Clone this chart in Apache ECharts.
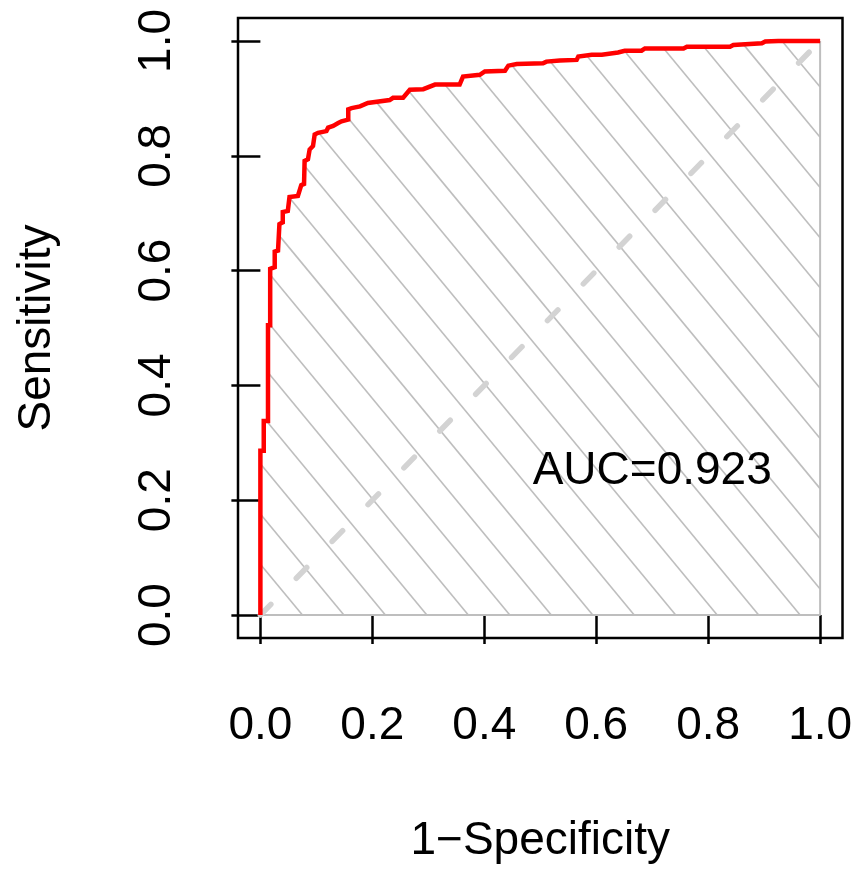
<!DOCTYPE html>
<html>
<head>
<meta charset="utf-8">
<script src="https://cdn.jsdelivr.net/npm/echarts@6/dist/echarts.min.js"></script>
<style>html,body{margin:0;padding:0;background:#fff;}#main{width:858px;height:869px;}</style>
</head>
<body>
<div id="main"></div>
<script>
// ROC curve vertices (1-specificity, sensitivity)
const fpr = [0, 0, 0.006, 0.006, 0.0136, 0.0136, 0.0175, 0.0175, 0.0256, 0.0256, 0.0315, 0.034, 0.040, 0.040, 0.049, 0.052, 0.067, 0.073, 0.078, 0.079, 0.085, 0.088, 0.094, 0.097, 0.103, 0.118, 0.121, 0.130, 0.133, 0.139, 0.145, 0.157, 0.157, 0.163, 0.178, 0.192, 0.231, 0.237, 0.255, 0.267, 0.291, 0.312, 0.356, 0.362, 0.392, 0.401, 0.437, 0.443, 0.458, 0.505, 0.511, 0.535, 0.565, 0.568, 0.592, 0.610, 0.639, 0.651, 0.681, 0.687, 0.756, 0.762, 0.839, 0.845, 0.896, 0.902, 0.925, 1.0];
const tpr = [0, 0.286, 0.286, 0.338, 0.338, 0.505, 0.505, 0.603, 0.606, 0.633, 0.635, 0.681, 0.684, 0.702, 0.704, 0.728, 0.730, 0.749, 0.751, 0.791, 0.794, 0.811, 0.817, 0.837, 0.840, 0.843, 0.849, 0.852, 0.854, 0.857, 0.860, 0.863, 0.881, 0.883, 0.886, 0.892, 0.897, 0.901, 0.901, 0.915, 0.916, 0.924, 0.924, 0.938, 0.941, 0.947, 0.948, 0.957, 0.960, 0.961, 0.964, 0.966, 0.967, 0.973, 0.976, 0.976, 0.980, 0.983, 0.983, 0.987, 0.987, 0.990, 0.990, 0.993, 0.996, 0.999, 1.0, 1.0];
const xTicks = [0, 0.2, 0.4, 0.6, 0.8, 1.0];
const yTicks = [0, 0.2, 0.4, 0.6, 0.8, 1.0];
const aucLabel = 'AUC=0.923';
const aucPos = [0.7, 0.25];
const xName = '1\u2212Specificity';
const yName = 'Sensitivity';

// hatch parameters (style)
const HATCH_STEP = 0.0741;   // horizontal spacing in data units
const HATCH_SLOPE = 1.18;    // data-unit slope (downwards)
const HATCH_OFFSET = 0.001;

function rocAt(x) {
  let y = 0;
  for (let i = 0; i < fpr.length - 1; i++) {
    const x0 = fpr[i], x1 = fpr[i + 1];
    if (x0 <= x && x <= x1) {
      let v;
      if (x1 === x0) v = Math.max(tpr[i], tpr[i + 1]);
      else v = tpr[i] + (tpr[i + 1] - tpr[i]) * (x - x0) / (x1 - x0);
      if (v > y) y = v;
    }
  }
  return y;
}
const xEnd = fpr[fpr.length - 1];
const hatch = [];
for (let k = 1; k < 200; k++) {
  const c = HATCH_OFFSET + HATCH_STEP * k;
  const lineY = x => HATCH_SLOPE * (c - x);
  const f = x => lineY(x) - rocAt(x);
  const xmax = Math.min(c, xEnd);
  if (f(xmax) > 0) break;
  let xs;
  if (f(0) <= 0) xs = 0;
  else {
    let lo = 0, hi = xmax;
    for (let it = 0; it < 60; it++) {
      const mid = (lo + hi) / 2;
      if (f(mid) > 0) lo = mid; else hi = mid;
    }
    xs = hi;
  }
  hatch.push([xs, lineY(xs), xmax, lineY(xmax)]);
}

const FONT = '"Liberation Sans", Arial, Helvetica, sans-serif';
const chart = echarts.init(document.getElementById('main'));
chart.setOption({
  animation: false,
  backgroundColor: '#fff',
  grid: { left: 238, top: 18, right: 15.5, bottom: 227.5, show: true, borderColor: '#000', borderWidth: 2.5, backgroundColor: 'transparent' },
  xAxis: {
    type: 'value', min: -0.04, max: 1.04,
    name: xName, nameLocation: 'middle', nameGap: 180,
    nameTextStyle: { fontSize: 46, fontFamily: FONT, color: '#000' },
    axisLine: { show: false },
    splitLine: { show: false },
    axisTick: { show: true, length: 29, customValues: xTicks, lineStyle: { color: '#000', width: 2.5 } },
    axisLabel: { customValues: xTicks, formatter: v => v.toFixed(1), fontSize: 46, fontFamily: FONT, color: '#000', margin: 65 }
  },
  yAxis: {
    type: 'value', min: -0.04, max: 1.04,
    name: yName, nameLocation: 'middle', nameGap: 178,
    nameTextStyle: { fontSize: 46, fontFamily: FONT, color: '#000' },
    axisLine: { show: false },
    splitLine: { show: false },
    axisTick: { show: true, length: 29, customValues: yTicks, lineStyle: { color: '#000', width: 2.5 } },
    axisLabel: { customValues: yTicks, rotate: 90, formatter: v => v.toFixed(1), fontSize: 46, fontFamily: FONT, color: '#000', margin: 58 }
  },
  series: [
    {
      type: 'custom', z: 1, silent: true,
      data: hatch,
      renderItem: (params, api) => {
        const p1 = api.coord([api.value(0), api.value(1)]);
        const p2 = api.coord([api.value(2), api.value(3)]);
        return { type: 'line', shape: { x1: p1[0], y1: p1[1], x2: p2[0], y2: p2[1] }, style: { stroke: '#bebebe', lineWidth: 1.6 } };
      }
    },
    {
      type: 'line', z: 2, symbol: 'none', silent: true,
      data: [[fpr[0], 0], [xEnd, 0], [xEnd, tpr[tpr.length - 1]]],
      lineStyle: { color: '#bebebe', width: 2 }
    },
    {
      type: 'line', z: 3, symbol: 'none', silent: true,
      data: [[xTicks[0], yTicks[0]], [xTicks[xTicks.length - 1], yTicks[yTicks.length - 1]]],
      lineStyle: { color: '#d3d3d3', width: 5.5, type: [15, 36.4], cap: 'round' }
    },
    {
      type: 'line', z: 4, symbol: 'none', silent: true,
      data: fpr.map((x, i) => [x, tpr[i]]),
      lineStyle: { color: '#ff0000', width: 4.5, join: 'miter' }
    },
    {
      type: 'custom', z: 5, silent: true,
      data: [aucPos],
      renderItem: (params, api) => {
        const p = api.coord([api.value(0), api.value(1)]);
        return { type: 'text', x: p[0], y: p[1], style: { text: aucLabel, fill: '#000', font: '46px ' + FONT, align: 'center', verticalAlign: 'middle' } };
      }
    }
  ]
});
</script>
</body>
</html>
